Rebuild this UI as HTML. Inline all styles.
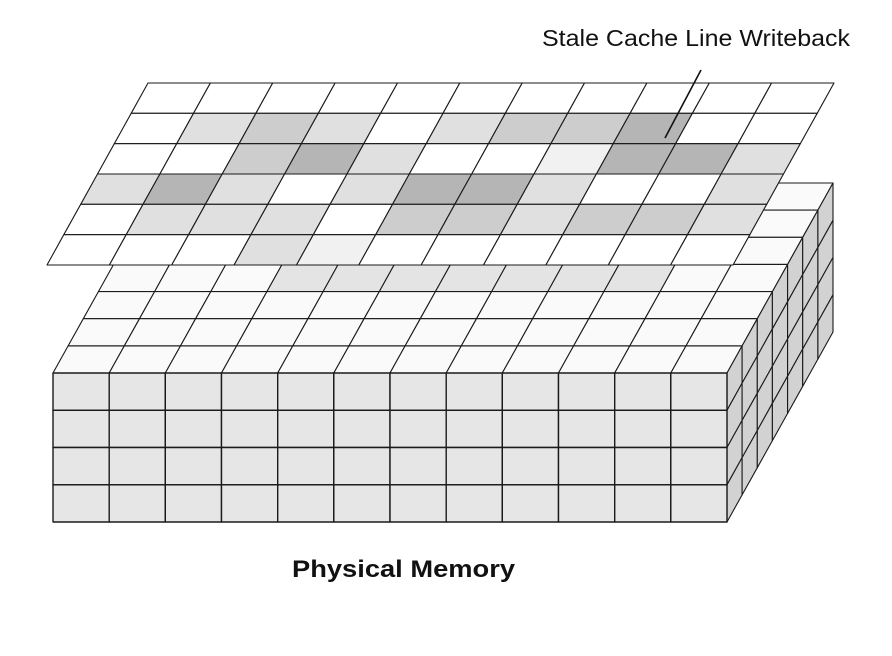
<!DOCTYPE html>
<html><head><meta charset="utf-8"><style>
html,body{margin:0;padding:0;background:#fff;}
svg{display:block;}
</style></head><body>
<svg id="s" width="892" height="656" viewBox="0 0 892 656" xmlns="http://www.w3.org/2000/svg">
<g id="block"></g>
<g id="plane"></g>
<line x1="701" y1="70" x2="665" y2="138" stroke="#111" stroke-width="1.6"/>
<text x="542" y="46" font-family="Liberation Sans, sans-serif" font-size="23" fill="#111" textLength="308" lengthAdjust="spacingAndGlyphs">Stale Cache Line Writeback</text>
<text x="292" y="577" font-family="Liberation Sans, sans-serif" font-size="24" font-weight="bold" fill="#111" textLength="223" lengthAdjust="spacingAndGlyphs">Physical Memory</text>
</svg>
<script>
var NS="http://www.w3.org/2000/svg";
function poly(g,pts,fill,sw){var p=document.createElementNS(NS,"polygon");p.setAttribute("points",pts.map(function(a){return a[0].toFixed(1)+","+a[1].toFixed(1)}).join(" "));p.setAttribute("fill",fill);p.setAttribute("stroke","#1a1a1a");p.setAttribute("stroke-width",sw||1.1);p.setAttribute("stroke-linejoin","round");g.appendChild(p);}
var B=document.getElementById("block"),P=document.getElementById("plane");
// block top face
var bt=183,bb=373,rows=7,cols=12,cw=674/12;
function bl(y){return 159-(y-bt)*(106/190);}
for(var r=0;r<rows;r++){var y1=bt+r*(190/rows),y2=bt+(r+1)*(190/rows);
 for(var c=0;c<cols;c++){var f=(r==3&&c>=3&&c<=9)?"#e4e4e4":"#fafafa";
  poly(B,[[bl(y1)+c*cw,y1],[bl(y1)+(c+1)*cw,y1],[bl(y2)+(c+1)*cw,y2],[bl(y2)+c*cw,y2]],f);}}
// side face
for(var d=0;d<7;d++){for(var h=0;h<4;h++){var t1=d/7,t2=(d+1)/7,hh=149/4;
 var ax=727+106*t1,ay=373-190*t1,bx=727+106*t2,by=373-190*t2;
 poly(B,[[ax,ay+h*hh],[bx,by+h*hh],[bx,by+(h+1)*hh],[ax,ay+(h+1)*hh]],"#d2d2d2");}}
// front face
for(var c=0;c<12;c++)for(var h=0;h<4;h++){poly(B,[[53+c*cw,373+h*37.25],[53+(c+1)*cw,373+h*37.25],[53+(c+1)*cw,373+(h+1)*37.25],[53+c*cw,373+(h+1)*37.25]],"#e6e6e6",1.4);}
// plane
var W="#ffffff",V="#f1f1f1",L="#e0e0e0",M="#cdcdcd",D="#b5b5b5";
var pat=[
[W,W,W,W,W,W,W,W,W,W,W],
[W,L,M,L,W,L,M,M,D,W,W],
[W,W,M,D,L,W,W,V,D,D,L],
[L,D,L,W,L,D,D,L,W,W,L],
[W,L,L,L,W,M,M,L,M,M,L],
[W,W,W,L,V,W,W,W,W,W,W]];
var pt=83,pb=265,pw=686/11;
function pl(y){return 148-(y-pt)*(101/182);}
for(var r=0;r<6;r++){var y1=pt+r*(182/6),y2=pt+(r+1)*(182/6);
 for(var c=0;c<11;c++){poly(P,[[pl(y1)+c*pw,y1],[pl(y1)+(c+1)*pw,y1],[pl(y2)+(c+1)*pw,y2],[pl(y2)+c*pw,y2]],pat[r][c]);}}
</script>
</body></html>
